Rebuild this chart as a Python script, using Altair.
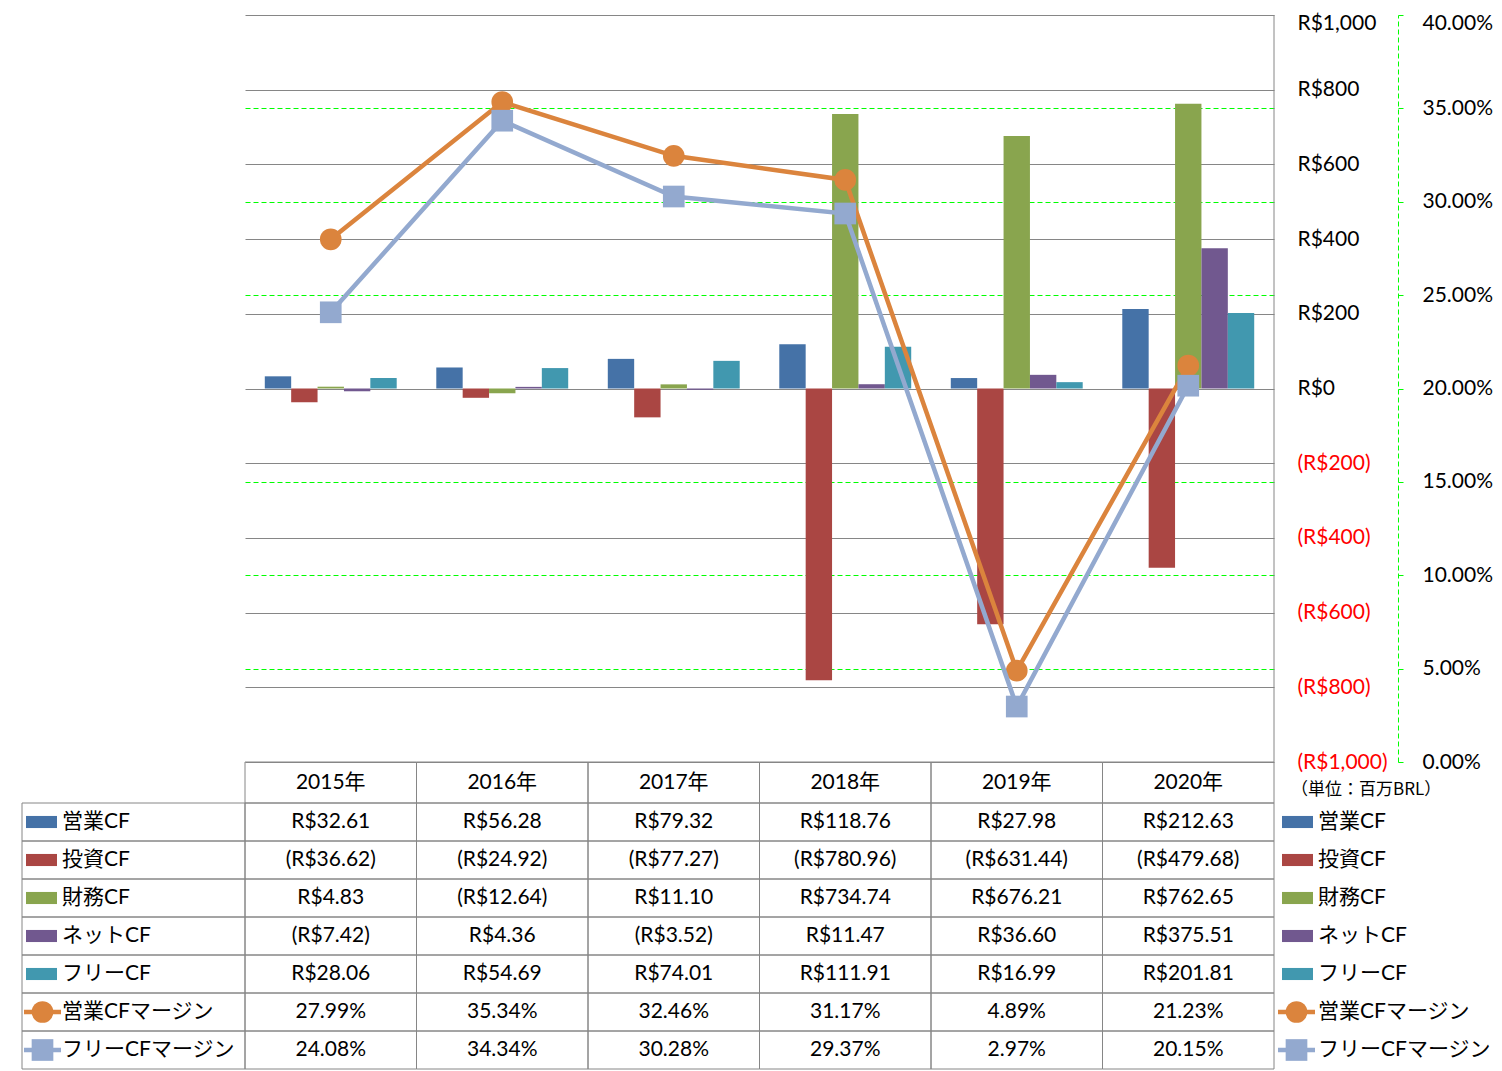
import altair as alt
import pandas as pd

years = ["2015年", "2016年", "2017年", "2018年", "2019年", "2020年"]
bar_series = ["営業CF", "投資CF", "財務CF", "ネットCF", "フリーCF"]
line_series = ["営業CFマージン", "フリーCFマージン"]

op_cf = [32.61, 56.28, 79.32, 118.76, 27.98, 212.63]
inv_cf = [-36.62, -24.92, -77.27, -780.96, -631.44, -479.68]
fin_cf = [4.83, -12.64, 11.10, 734.74, 676.21, 762.65]
net_cf = [-7.42, 4.36, -3.52, 11.47, 36.60, 375.51]
free_cf = [28.06, 54.69, 74.01, 111.91, 16.99, 201.81]
op_margin = [27.99, 35.34, 32.46, 31.17, 4.89, 21.23]
free_margin = [24.08, 34.34, 30.28, 29.37, 2.97, 20.15]

bar_colors = ["#4572A7", "#AA4643", "#89A54E", "#71588F", "#4198AF"]
line_colors = ["#DB843D", "#93A9CF"]
money_ticks = list(range(-1000, 1001, 200))
pct_ticks = list(range(0, 41, 5))
unit_label = "（単位：百万BRL）"

FONT = "Lato, 'Noto Sans CJK JP', sans-serif"
FS = 21
GRID = "#868686"

all_series = bar_series + line_series
all_colors = bar_colors + line_colors
color_scale = alt.Scale(domain=all_series, range=all_colors)


def fmt_money(v):
    s = f"R${abs(v):,.2f}"
    return f"({s})" if v < 0 else s


bar_values = [op_cf, inv_cf, fin_cf, net_cf, free_cf]
line_values = [op_margin, free_margin]

bar_rows = []
for name, vals in zip(bar_series, bar_values):
    for y, v in zip(years, vals):
        bar_rows.append({"year": y, "series": name, "value": v})
df_bar = pd.DataFrame(bar_rows)

line_dfs = []
for name, vals in zip(line_series, line_values):
    line_dfs.append(pd.DataFrame({"year": years, "series": name, "pct": vals}))

# table data
table_rows = []
for r, (name, vals) in enumerate(zip(bar_series, bar_values), start=1):
    for y, v in zip(years, vals):
        table_rows.append({"year": y, "row": r, "text": fmt_money(v)})
for r, (name, vals) in enumerate(zip(line_series, line_values), start=6):
    for y, v in zip(years, vals):
        table_rows.append({"year": y, "row": r, "text": f"{v:.2f}%"})
for y in years:
    table_rows.append({"year": y, "row": 0, "text": y})
df_table = pd.DataFrame(table_rows)

cells = []
for y in years:
    for r in range(8):
        cells.append({"year": y, "r0": r - 0.5, "r1": r + 0.5})
df_cells = pd.DataFrame(cells)
df_lcells = pd.DataFrame({"r0": [r - 0.5 for r in range(1, 8)], "r1": [r + 0.5 for r in range(1, 8)]})

df_labels = pd.DataFrame({"series": all_series, "row": list(range(1, 8))})
df_barkeys = df_labels.iloc[:5]
df_linekeys = df_labels.iloc[5:]

x_enc = alt.X("year:N", scale=alt.Scale(domain=years, paddingInner=0, paddingOuter=0), axis=None)
row_scale = alt.Scale(domain=[-0.5, 0.5, 7.5], range=[747, 788, 1054], zero=False, nice=False)

money_axis = alt.Axis(
    orient="right", values=money_ticks, grid=True, gridColor=GRID, gridWidth=1,
    ticks=False, tickSize=0, domain=False, labelPadding=23, labelAlign="left",
    labelBaseline="middle", labelFont=FONT, labelFontSize=FS, labelFlush=False,
    labelOverlap=False, labelBound=False, title=None,
    labelOffset={"condition": {"test": "datum.value == 1000", "value": 8}, "value": 0},
    labelExpr="datum.value < 0 ? '(R$' + format(-datum.value, ',') + ')' : 'R$' + format(datum.value, ',')",
    labelColor={"condition": {"test": "datum.value < 0", "value": "#FF0000"}, "value": "#000000"},
)

pct_axis = alt.Axis(
    orient="right", offset=124, values=pct_ticks, grid=True, gridColor="#00FF00",
    gridDash=[5, 3], gridWidth=1,
    gridOpacity={"condition": {"test": "datum.value == 0 || datum.value == 20 || datum.value == 40", "value": 0}, "value": 1},
    domain=True, domainColor="#00FF00", domainDash=[5, 3], ticks=True, tickColor="#00FF00",
    tickSize=5, labelPadding=19, labelAlign="left", labelBaseline="middle",
    labelFont=FONT, labelFontSize=FS, labelColor="#000000", labelFlush=False,
    labelOverlap=False, labelBound=False, title=None,
    labelOffset={"condition": {"test": "datum.value == 40", "value": 8}, "value": 0},
    labelExpr="format(datum.value, '.2f') + '%'",
)

bars = alt.Chart(df_bar).mark_bar().encode(
    x=x_enc,
    xOffset=alt.XOffset("series:N", scale=alt.Scale(domain=bar_series, paddingInner=0, paddingOuter=0.75)),
    y=alt.Y("value:Q", scale=alt.Scale(domain=[-1000, 1000], range=[747, 0], nice=False, zero=False), axis=money_axis),
    color=alt.Color("series:N", scale=color_scale, legend=None),
)

pct_scale = alt.Scale(domain=[0, 40], range=[747, 0], nice=False, zero=False)


def line_layer(df, shape, with_axis):
    ax = pct_axis if with_axis else None
    ln = alt.Chart(df).mark_line(strokeWidth=4.5).encode(
        x=x_enc,
        y=alt.Y("pct:Q", scale=pct_scale, axis=ax),
        color=alt.Color("series:N", scale=color_scale, legend=None),
    )
    pt = alt.Chart(df).mark_point(filled=True, shape=shape, size=470, opacity=1).encode(
        x=x_enc,
        y=alt.Y("pct:Q", scale=pct_scale, axis=None),
        color=alt.Color("series:N", scale=color_scale, legend=None),
    )
    return [ln, pt]


layers_lines = line_layer(line_dfs[0], "circle", True) + line_layer(line_dfs[1], "square", False)

cell_rects = alt.Chart(df_cells).mark_rect(fill="transparent", stroke=GRID, strokeWidth=1).encode(
    x=x_enc,
    y=alt.Y("r0:Q", scale=row_scale, axis=None),
    y2="r1:Q",
)
left_rects = alt.Chart(df_lcells).mark_rect(fill="transparent", stroke=GRID, strokeWidth=1).encode(
    x=alt.value(-223), x2=alt.value(0),
    y=alt.Y("r0:Q", scale=row_scale, axis=None),
    y2="r1:Q",
)
right_border = alt.Chart(df_lcells.iloc[:1]).mark_rule(color=GRID, strokeWidth=1).encode(
    x=alt.value(1029), y=alt.value(0), y2=alt.value(747)
)

table_text = alt.Chart(df_table).mark_text(font=FONT, fontSize=FS, color="#000000", baseline="middle").encode(
    x=x_enc,
    y=alt.Y("row:Q", scale=row_scale, axis=None),
    text="text:N",
)


def labels(xpos):
    return alt.Chart(df_labels).mark_text(font=FONT, fontSize=FS, color="#000000", align="left", baseline="middle").encode(
        x=alt.value(xpos),
        y=alt.Y("row:Q", scale=row_scale, axis=None),
        text="series:N",
    )


def bar_keys(xpos):
    return alt.Chart(df_barkeys).mark_point(
        filled=True, opacity=1, shape="M-1,-0.39H1V0.39H-1Z", size=961
    ).encode(
        x=alt.value(xpos),
        y=alt.Y("row:Q", scale=row_scale, axis=None),
        color=alt.Color("series:N", scale=color_scale, legend=None),
    )


def line_keys(xpos):
    seg = alt.Chart(df_linekeys).mark_point(
        filled=True, opacity=1, shape="M-1,-0.12H1V0.12H-1Z", size=1369
    ).encode(
        x=alt.value(xpos),
        y=alt.Y("row:Q", scale=row_scale, axis=None),
        color=alt.Color("series:N", scale=color_scale, legend=None),
    )
    mk = alt.Chart(df_linekeys).mark_point(filled=True, opacity=1, size=470).encode(
        x=alt.value(xpos),
        y=alt.Y("row:Q", scale=row_scale, axis=None),
        color=alt.Color("series:N", scale=color_scale, legend=None),
        shape=alt.Shape("series:N", scale=alt.Scale(domain=line_series, range=["circle", "square"]), legend=None),
    )
    return [seg, mk]


unit = alt.Chart(pd.DataFrame({"t": [unit_label]})).mark_text(
    font="'Noto Sans CJK JP', sans-serif", fontSize=17, color="#000000", align="left", baseline="middle"
).encode(x=alt.value(1046), y=alt.value(775), text="t:N")

chart = alt.layer(
    bars, *layers_lines,
    cell_rects, left_rects, right_border, table_text,
    labels(-183), labels(1073),
    bar_keys(-203.5), bar_keys(1052.5),
    *line_keys(-202.5), *line_keys(1051.5),
    unit,
).resolve_scale(y="independent").properties(
    width=1029, height=1055,
    autosize=alt.AutoSizeParams(type="none"),
    padding={"left": 237, "top": 7, "right": 220, "bottom": 1},
    background="white",
).configure_view(stroke=None)

chart.save("out.html", embed_options={"renderer": "svg", "actions": False})
